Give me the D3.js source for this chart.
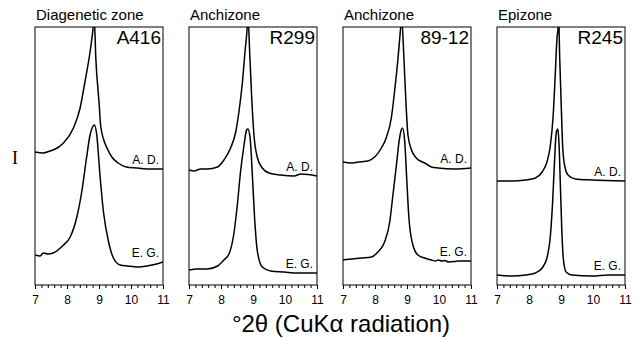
<!DOCTYPE html>
<html>
<head>
<meta charset="utf-8">
<script src="https://cdn.jsdelivr.net/npm/d3@7"></script>
<style>
  body { margin: 0; background: #fff; }
  svg { display: block; }
</style>
</head>
<body>
<div id="chart"></div>
<script>
// panel labels
const zones = ['Diagenetic zone', 'Anchizone', 'Anchizone', 'Epizone'];
const samples = ['A416', 'R299', '89-12', 'R245'];
const treatments = ['A. D.', 'E. G.'];
const xTicks = [7, 8, 9, 10, 11];

// traces: [°2theta, intensity (arbitrary units)]
const a416AD = [[7.00,133],[7.26,132],[7.47,134],[7.57,135],[7.89,142],[8.20,157],[8.41,177],[8.56,203],[8.72,233],[8.82,258],[8.85,268],[8.90,227],[9.00,183],[9.05,160],[9.15,145],[9.25,137],[9.40,128],[9.60,122],[9.85,118],[10.2,117],[10.6,116],[11.0,116]];
const a416EG = [[7.00,30],[7.16,29],[7.26,32],[7.42,31],[7.57,32],[7.89,40],[8.10,48],[8.30,67],[8.46,93],[8.61,127],[8.72,150],[8.80,158],[8.86,160],[8.93,150],[9.03,110],[9.14,73],[9.30,43],[9.45,27],[9.66,20],[9.90,19],[10.2,18],[10.5,19],[10.8,21],[11.0,23]];

const r299AD = [[7.00,115],[7.16,114],[7.36,116],[7.57,116],[7.89,118],[8.09,125],[8.30,137],[8.46,153],[8.56,173],[8.67,203],[8.75,233],[8.82,258],[8.84,270],[8.90,230],[8.96,187],[9.03,150],[9.14,127],[9.29,117],[9.50,112],[9.86,110],[10.28,109],[10.5,111],[11.0,109]];
const r299EG = [[7.00,15],[7.26,16],[7.57,16],[7.89,19],[8.09,25],[8.25,31],[8.41,53],[8.51,80],[8.61,113],[8.72,140],[8.80,155],[8.84,156],[8.91,147],[8.98,110],[9.05,67],[9.14,33],[9.29,18],[9.55,14],[9.97,13],[10.39,12],[11.0,12]];

const s8912AD = [[7.00,123],[7.26,122],[7.47,123],[7.78,124],[7.99,128],[8.20,137],[8.35,147],[8.51,167],[8.61,193],[8.72,227],[8.80,257],[8.83,268],[8.90,230],[8.96,187],[9.03,150],[9.14,135],[9.29,127],[9.55,122],[9.76,118],[9.97,117],[10.49,116],[11.0,117]];
const s8912EG = [[7.00,25],[7.26,26],[7.57,27],[7.89,28],[8.09,33],[8.30,43],[8.46,63],[8.56,90],[8.67,120],[8.75,143],[8.82,155],[8.86,157],[8.93,143],[8.99,107],[9.06,67],[9.16,43],[9.34,30],[9.55,27],[9.76,25],[9.90,24],[9.97,25],[10.1,24],[10.18,24.5],[10.3,23],[10.49,23.5],[10.6,24],[10.8,24],[11.0,24]];

const r245AD = [[7.00,104],[7.47,104],[7.89,105],[8.20,107],[8.41,113],[8.56,123],[8.67,140],[8.75,167],[8.82,210],[8.875,247],[8.91,258],[8.92,275],[8.96,227],[9.01,177],[9.05,140],[9.11,120],[9.22,110],[9.45,106],[9.97,105],[11.0,104]];
const r245EG = [[7.00,10],[7.47,9],[7.89,10],[8.20,12],[8.41,17],[8.56,27],[8.67,50],[8.74,84],[8.80,125],[8.85,152],[8.90,156],[8.94,140],[8.98,100],[9.02,60],[9.07,27],[9.16,13],[9.34,10],[9.97,9],[10.49,10],[11.0,10]];

const traces = [[a416AD, a416EG], [r299AD, r299EG], [s8912AD, s8912EG], [r245AD, r245EG]];

const width = 638, height = 338;
const margin = {top: 27, left: 35};
const panelW = 128, panelH = 258, panelStep = 154;
const font = '"Liberation Sans", Arial, Helvetica, sans-serif';

const svg = d3.select('#chart')
    .append('svg')
    .attr('width', width)
    .attr('height', height);

const xScale = d3.scaleLinear().domain([7, 11]).range([0, panelW]);
const yScale = d3.scaleLinear().domain([0, panelH]).range([panelH, 0]);

const line = d3.line()
    .x(d => xScale(d[0]))
    .y(d => yScale(d[1]))
    .curve(d3.curveMonotoneX);

traces.forEach((pair, i) => {

    const g = svg.append('g')
        .attr('transform', 'translate(' + (margin.left + i * panelStep) + ',' + margin.top + ')');

    g.append('clipPath')
        .attr('id', 'clip' + i)
        .append('rect')
        .attr('width', panelW)
        .attr('height', panelH);

    // frame
    g.append('rect')
        .attr('width', panelW)
        .attr('height', panelH)
        .attr('fill', 'none')
        .attr('stroke', '#000')
        .attr('stroke-width', 1);

    // traces
    pair.forEach((data, j) => {
        g.append('path')
            .datum(data)
            .attr('clip-path', 'url(#clip' + i + ')')
            .attr('fill', 'none')
            .attr('stroke', '#000')
            .attr('stroke-width', 1.5)
            .attr('d', line);

        const last = data[data.length - 1];
        g.append('text')
            .attr('x', panelW - 4)
            .attr('y', yScale(last[1]) - 5)
            .attr('text-anchor', 'end')
            .attr('font-family', font)
            .attr('font-size', 12)
            .text(treatments[j]);
    });

    // x axis with minor ticks
    const axis = g.append('g')
        .attr('transform', 'translate(0,' + panelH + ')');

    axis.call(d3.axisBottom(xScale).tickValues(d3.range(7, 11.01, 0.2)).tickSize(3).tickFormat(''))
        .call(a => a.select('.domain').remove());

    axis.append('g')
        .call(d3.axisBottom(xScale).tickValues(xTicks).tickSize(4).tickPadding(6).tickFormat(d3.format('d')))
        .call(a => a.select('.domain').remove())
        .selectAll('text')
        .attr('font-family', font)
        .attr('font-size', 12)
        .attr('fill', '#000');

    axis.selectAll('line').attr('stroke', '#000');

    // zone title and sample label
    g.append('text')
        .attr('x', 1)
        .attr('y', -7)
        .attr('font-family', font)
        .attr('font-size', 15)
        .text(zones[i]);

    g.append('text')
        .attr('x', panelW - 2)
        .attr('y', 17)
        .attr('text-anchor', 'end')
        .attr('font-family', font)
        .attr('font-size', 19)
        .text(samples[i]);
});

// y label
svg.append('text')
    .attr('x', 15)
    .attr('y', 164)
    .attr('text-anchor', 'middle')
    .attr('font-family', '"Liberation Serif", "Times New Roman", serif')
    .attr('font-size', 18)
    .text('I');

// x title
svg.append('text')
    .attr('x', 341)
    .attr('y', 332)
    .attr('text-anchor', 'middle')
    .attr('font-family', font)
    .attr('font-size', 24)
    .text('°2θ (CuKα radiation)');
</script>
</body>
</html>
